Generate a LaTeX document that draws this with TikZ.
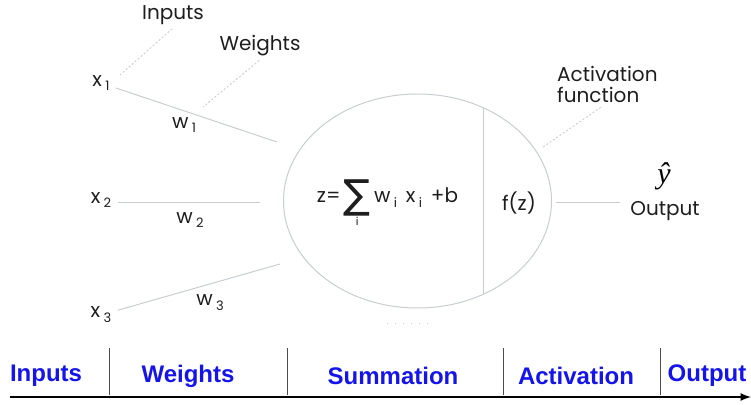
\documentclass[tikz,border=0pt]{standalone}
\usepackage{fontspec}
\setmainfont{Poppins}
\newfontfamily\barfont{Liberation Sans}
\newfontfamily\sumfont{DejaVu Sans}
\newfontfamily\yfont{Liberation Serif}
\usetikzlibrary{arrows,positioning,shapes.geometric}
\definecolor{linegray}{RGB}{200,205,208}
\definecolor{txtgray}{RGB}{30,30,30}
\definecolor{stageblue}{RGB}{20,20,235}
\newcommand{\lowidx}[2]{#1\,\raisebox{-0.45ex}{\fontsize{13}{13}\selectfont #2}}

\begin{document}
\begin{tikzpicture}[x=1pt,y=-1pt,
  lbl/.style={text=txtgray,font=\fontsize{20}{21}\selectfont},
  wire/.style={draw=linegray,line width=1pt},
  hint/.style={draw=linegray,line width=0.9pt,dash pattern=on 2pt off 2pt},
  stage/.style={text=stageblue,font=\barfont\bfseries\fontsize{24}{26}\selectfont}]
\useasboundingbox (0,0) rectangle (751,404);

% inputs and weights
\node[lbl] (x1) at (101,83) {\lowidx{x}{1}};
\node[lbl] (x2) at (101,200) {\lowidx{x}{2}};
\node[lbl] (x3) at (101,315) {\lowidx{x}{3}};
\coordinate (e1) at (277,142);
\coordinate (e2) at (260,202);
\coordinate (e3) at (280,264);
\draw[wire,shorten <=3pt] (x1) -- (e1);
\draw[wire,shorten <=3pt] (x2.east |- e2) -- (e2);
\draw[wire,shorten <=3pt] (x3) -- (e3);
\node[lbl] (w1) at (184,125) {\lowidx{w}{1}};
\node[lbl] (w2) at (190,220) {\lowidx{w}{2}};
\node[lbl] (w3) at (210,303) {\lowidx{w}{3}};

\node[lbl] (inlbl) at (173,15) {Inputs};
\node[lbl] (wlbl) at (260,46) {Weights};
\coordinate (ip) at (120,75);
\coordinate (wp) at (203,107);
\draw[hint,shorten <=1pt] (inlbl.south) -- (ip);
\draw[hint,shorten <=1pt] (wlbl.south) -- (wp);

% neuron
\node[ellipse,draw=linegray,line width=1pt,minimum width=268pt,minimum height=214pt,inner sep=0pt] (neuron) at (417.5,201) {};
\coordinate (splittop) at (483,107.7);
\coordinate (splitbot) at (483,294.3);
\draw[wire] (splittop) -- (splitbot);
\node[lbl] (sumz) at (387.5,203) {z=\,$\mathop{\vcenter{\hbox{\sumfont\fontsize{40}{40}\selectfont ∑}}}\limits_{\mbox{\fontsize{11}{11}\selectfont i}}$\,\lowidx{w}{i}\;\,\lowidx{x}{i}\;\,+b};
\node[lbl] (fz) at (519,203) {f(z)};
\draw[hint,dash pattern=on 1pt off 7pt] (387,323) -- (428,323);

% activation and output
\node[lbl,align=left,anchor=north west,inner sep=0pt] (actlbl) at (557,66) {Activation\\function};
\coordinate (ap) at (543,147);
\draw[hint,shorten <=8pt] (actlbl.south) -- (ap);
\node[inner sep=0pt] (yhat) at (664,176) {\yfont\itshape\fontsize{30}{30}\selectfont ŷ};
\node[lbl,inner sep=0pt] (outlbl) at (665,211) {Output};
\coordinate (oend) at (620,202);
\draw[wire,shorten <=4pt] (neuron.east |- oend) -- (oend);

% stages
\coordinate (tstart) at (10,397);
\coordinate (tend) at (751,397);
\draw[line width=2.5pt,-latex] (tstart) -- (tend);
\foreach \sx in {109,287,503,660}
  \draw[black!70,line width=0.8pt] (\sx,348) -- (\sx,395);
\node[stage] (stin) at (46,376) {Inputs};
\node[stage] (stw) at (188,376) {Weights};
\node[stage] (stsum) at (393,376) {Summation};
\node[stage] (stact) at (576,376) {Activation};
\node[stage] (stout) at (707,376) {Output};
\end{tikzpicture}
\end{document}
